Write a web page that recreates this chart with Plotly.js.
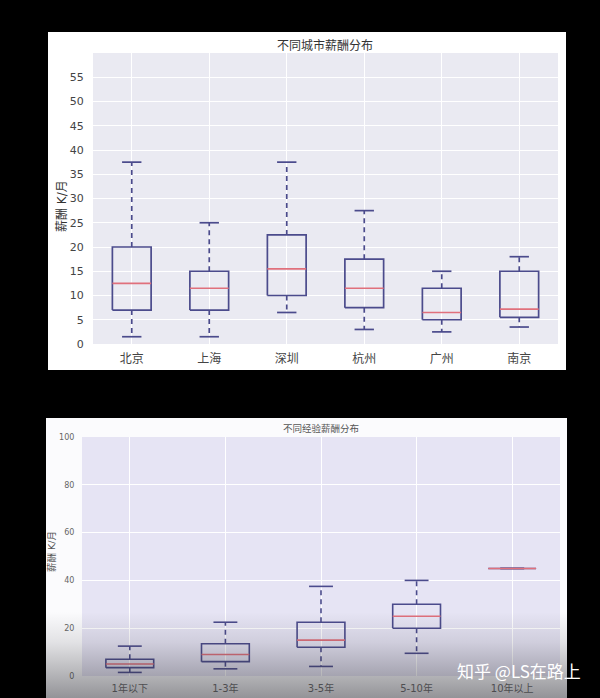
<!DOCTYPE html>
<html>
<head>
<meta charset="utf-8">
<script src="https://cdn.plot.ly/plotly-3.0.1.min.js"></script>
<style>html,body{margin:0;padding:0;background:#000;}#chart{width:600px;height:698px;}</style>
</head>
<body>
<div id="chart"></div>
<script>
// ---- data: salary by city (K/month) ----
const cities = ['北京','上海','深圳','杭州','广州','南京'];
const cityLow  = [1.5, 1.5, 6.5, 3,   2.5, 3.5];
const cityQ1   = [7,   7,   10,  7.5, 5,   5.5];
const cityMed  = [12.5,11.5,15.5,11.5,6.5, 7.2];
const cityQ3   = [20,  15,  22.5,17.5,11.5,15];
const cityHigh = [37.5,25,  37.5,27.5,15,  18];
const cityTicks = [0,5,10,15,20,25,30,35,40,45,50,55];

// ---- data: salary by experience ----
const exps = ['1年以下','1-3年','3-5年','5-10年','10年以上'];
const expLow  = [1.5, 3,   4,   9.5, 45];
const expQ1   = [3.5, 6,   12,  20,  45];
const expMed  = [5,   9,   15,  25,  45];
const expQ3   = [7,   13.5,22.5,30,  45];
const expHigh = [12.5,22.5,37.5,40,  45];
const expTicks = [0,20,40,60,80,100];

const W = 600, H = 698;
const px = v => v / W;
const py = v => 1 - v / H;
const BOX = '#4b4b8c', MED = '#e0707c';

function boxTraces(low, q1, med, q3, high, xa, ya, lw) {
  const hw = 0.25, cw = 0.125;
  const bx = [], by = [], wx = [], wy = [], cx = [], cy = [], mx = [], my = [];
  for (let i = 0; i < med.length; i++) {
    bx.push(i-hw, i+hw, i+hw, i-hw, i-hw, null); by.push(q1[i], q1[i], q3[i], q3[i], q1[i], null);
    wx.push(i, i, null, i, i, null); wy.push(q3[i], high[i], null, q1[i], low[i], null);
    cx.push(i-cw, i+cw, null, i-cw, i+cw, null); cy.push(high[i], high[i], null, low[i], low[i], null);
    mx.push(i-hw, i+hw, null); my.push(med[i], med[i], null);
  }
  const base = {type:'scatter', mode:'lines', xaxis:xa, yaxis:ya, hoverinfo:'skip', showlegend:false, connectgaps:false};
  return [
    Object.assign({}, base, {x:wx, y:wy, line:{color:BOX, width:lw, dash:'5px,4px'}}),
    Object.assign({}, base, {x:cx, y:cy, line:{color:BOX, width:lw}}),
    Object.assign({}, base, {x:bx, y:by, line:{color:BOX, width:lw}}),
    Object.assign({}, base, {x:mx, y:my, line:{color:MED, width:lw}})
  ];
}

const data = [].concat(
  boxTraces(cityLow, cityQ1, cityMed, cityQ3, cityHigh, 'x', 'y', 1.7),
  boxTraces(expLow, expQ1, expMed, expQ3, expHigh, 'x2', 'y2', 1.6)
);

const FONT = 'DejaVu Sans, Noto Sans CJK SC, sans-serif';
const shapes = [
  {type:'rect', xref:'paper', yref:'paper', x0:px(48), x1:px(566), y0:py(370), y1:py(32), fillcolor:'#ffffff', line:{width:0}, layer:'below'},
  {type:'rect', xref:'paper', yref:'paper', x0:px(46), x1:px(567), y0:py(698), y1:py(418), fillcolor:'#fbfbfd', line:{width:0}, layer:'below'},
  {type:'rect', xref:'paper', yref:'paper', x0:px(93), x1:px(558), y0:py(344), y1:py(53), fillcolor:'#eaeaf2', line:{width:0}, layer:'below'},
  {type:'rect', xref:'paper', yref:'paper', x0:px(82), x1:px(560), y0:py(676), y1:py(437), fillcolor:'#e6e4f4', line:{width:0}, layer:'below'}
];

// smooth photo darkening at the bottom of the lower panel
const gradSvg = '<svg xmlns="http://www.w3.org/2000/svg" width="100" height="100" preserveAspectRatio="none">' +
  '<defs><linearGradient id="g" x1="0" y1="0" x2="0" y2="1">' +
  '<stop offset="0" stop-color="#2c2c32" stop-opacity="0"/>' +
  '<stop offset="0.35" stop-color="#2c2c32" stop-opacity="0.12"/>' +
  '<stop offset="1" stop-color="#2c2c32" stop-opacity="0.5"/>' +
  '</linearGradient></defs><rect width="100" height="100" fill="url(#g)"/></svg>';
const gTop = 612, gBot = 698;

const layout = {
  width: W, height: H,
  margin: {l:0, r:0, t:0, b:0},
  paper_bgcolor: '#000000',
  plot_bgcolor: 'rgba(0,0,0,0)',
  font: {family: FONT, color: '#444'},
  showlegend: false,
  xaxis: {domain:[px(93), px(558)], range:[-0.5, 5.5], tickvals:[0,1,2,3,4,5], ticktext:cities,
    showgrid:true, gridcolor:'#ffffff', gridwidth:1, zeroline:false, showline:false,
    ticks:'outside', ticklen:4, tickcolor:'rgba(0,0,0,0)', tickfont:{size:12, color:'#444', family:FONT}, anchor:'y', fixedrange:true},
  yaxis: {domain:[py(344), py(53)], range:[0, 60], tickvals:cityTicks, showgrid:true, gridcolor:'#ffffff', gridwidth:1,
    zeroline:false, showline:false, ticks:'outside', ticklen:6, tickcolor:'rgba(0,0,0,0)',
    tickfont:{size:11, color:'#444', family:FONT}, anchor:'x', fixedrange:true},
  xaxis2: {domain:[px(82), px(560)], range:[-0.5, 4.5], tickvals:[0,1,2,3,4], ticktext:exps,
    showgrid:true, gridcolor:'#ffffff', gridwidth:1, zeroline:false, showline:false,
    ticks:'outside', ticklen:3, tickcolor:'rgba(0,0,0,0)', tickfont:{size:10, color:'#666', family:FONT}, anchor:'y2', fixedrange:true},
  yaxis2: {domain:[py(676), py(437)], range:[0, 100], tickvals:expTicks, showgrid:true, gridcolor:'#ffffff', gridwidth:1,
    zeroline:false, showline:false, ticks:'outside', ticklen:5, tickcolor:'rgba(0,0,0,0)',
    tickfont:{size:8, color:'#666', family:FONT}, anchor:'x2', fixedrange:true},
  shapes: shapes,
  images: [{
    source: 'data:image/svg+xml;charset=utf-8,' + encodeURIComponent(gradSvg),
    xref:'paper', yref:'paper', x:px(46), y:py(gTop), sizex:px(567)-px(46), sizey:py(gTop)-py(gBot),
    xanchor:'left', yanchor:'top', sizing:'stretch', layer:'above', opacity:1
  }],
  annotations: [
    {text:'不同城市薪酬分布', xref:'paper', yref:'paper', x:px(325), y:py(46), showarrow:false,
      font:{size:12, color:'#333', family:FONT}, xanchor:'center', yanchor:'middle'},
    {text:'薪酬 K/月', xref:'paper', yref:'paper', x:px(62), y:py(206), showarrow:false, textangle:-90,
      font:{size:12, color:'#333', family:FONT}, xanchor:'center', yanchor:'middle'},
    {text:'不同经验薪酬分布', xref:'paper', yref:'paper', x:px(321), y:py(428), showarrow:false,
      font:{size:9.5, color:'#555', family:FONT}, xanchor:'center', yanchor:'middle'},
    {text:'薪酬 K/月', xref:'paper', yref:'paper', x:px(51), y:py(552), showarrow:false, textangle:-90,
      font:{size:9.5, color:'#555', family:FONT}, xanchor:'center', yanchor:'middle'},
    {text:'知乎 @LS在路上', xref:'paper', yref:'paper', x:px(519), y:py(670), showarrow:false,
      font:{size:17, color:'#ffffff', family:'Noto Sans CJK SC, sans-serif'}, xanchor:'center', yanchor:'middle'}
  ]
};

Plotly.newPlot('chart', data, layout, {staticPlot:true, displayModeBar:false});
</script>
</body>
</html>
